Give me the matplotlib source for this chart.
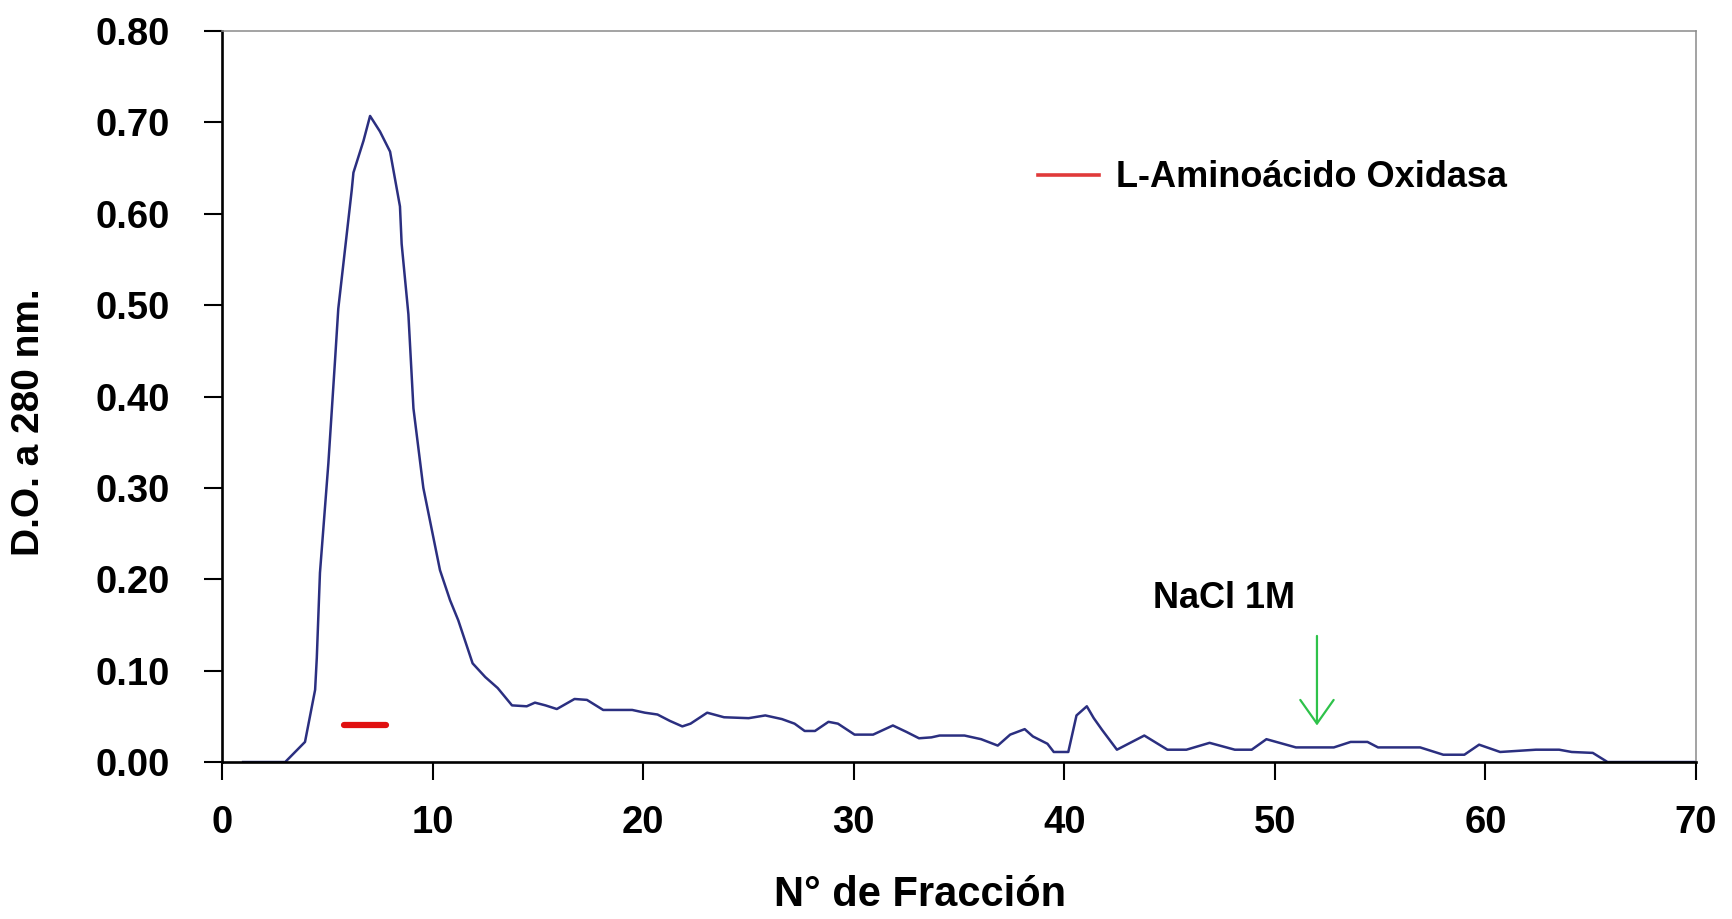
import matplotlib
matplotlib.use("Agg")
import matplotlib.pyplot as plt
from matplotlib.lines import Line2D

plt.rcParams['font.family'] = ['Liberation Sans', 'DejaVu Sans']
plt.rcParams['font.weight'] = 'bold'
plt.rcParams['axes.labelweight'] = 'bold'

# perfil de elución (D.O. 280 nm por fracción)
fraccion = [1.0, 3.0, 3.94, 4.42, 4.5, 4.65, 5.05, 5.37, 5.52, 5.84, 6.16, 6.24,
            6.72, 7.03, 7.5, 7.98, 8.45, 8.53, 8.85, 9.09, 9.56, 10.35, 10.83,
            11.22, 11.9, 12.5, 13.09, 13.77, 14.47, 14.86, 15.36, 15.9, 16.74,
            17.33, 18.1, 19.48, 20.08, 20.68, 21.27, 21.86, 22.25, 23.04, 23.84,
            25.01, 25.8, 26.59, 27.19, 27.67, 28.16, 28.8, 29.25, 30.04, 30.92,
            31.86, 32.5, 33.1, 33.69, 34.08, 35.26, 36.05, 36.84, 37.43, 38.12,
            38.51, 39.2, 39.5, 40.19, 40.58, 41.07, 41.4, 41.8, 42.5, 43.8, 44.9,
            45.8, 46.9, 48.1, 48.9, 49.6, 51.0, 52.8, 53.6, 54.4, 54.9, 56.9,
            58.0, 59.0, 59.7, 60.7, 62.4, 63.5, 64.1, 65.1, 65.8, 70.0]
absorbancia = [0.0, 0.0, 0.022, 0.079, 0.114, 0.207, 0.327, 0.441, 0.496, 0.561,
               0.626, 0.645, 0.680, 0.707, 0.690, 0.668, 0.608, 0.567, 0.49,
               0.387, 0.30, 0.21, 0.177, 0.155, 0.108, 0.093, 0.081, 0.062,
               0.061, 0.065, 0.062, 0.058, 0.069, 0.068, 0.057, 0.057, 0.054,
               0.052, 0.045, 0.039, 0.042, 0.054, 0.049, 0.048, 0.051, 0.047,
               0.042, 0.034, 0.034, 0.044, 0.042, 0.030, 0.030, 0.040, 0.033,
               0.026, 0.027, 0.029, 0.029, 0.025, 0.018, 0.030, 0.036, 0.028,
               0.020, 0.011, 0.011, 0.051, 0.061, 0.048, 0.035, 0.0135, 0.029,
               0.0135, 0.0135, 0.021, 0.0135, 0.0135, 0.025, 0.016, 0.016,
               0.022, 0.022, 0.016, 0.016, 0.008, 0.008, 0.019, 0.011, 0.0135,
               0.0135, 0.011, 0.010, 0.0, 0.0]

# fracciones con actividad L-aminoácido oxidasa
lao_x = [5.8, 7.8]
lao_y = [0.04, 0.04]

# inicio del gradiente de NaCl
nacl_x = 52.0
nacl_tope = 0.138
nacl_punta = 0.04
nacl_texto = (47.6, 0.179)

xticks = [0, 10, 20, 30, 40, 50, 60, 70]
yticks = [0.0, 0.1, 0.2, 0.3, 0.4, 0.5, 0.6, 0.7, 0.8]

fig = plt.figure(figsize=(17.32, 9.19), dpi=100)
ax = fig.add_axes([0.1282, 0.1708, 0.851, 0.7955])

ax.plot(fraccion, absorbancia, color='#2b2f80', lw=1.8, solid_joinstyle='round')
ax.plot(lao_x, lao_y, color='#e01010', lw=4.5, solid_capstyle='round')

ax.annotate('', xy=(nacl_x, nacl_punta), xytext=(nacl_x, nacl_tope),
            arrowprops=dict(arrowstyle='->,head_length=0.85,head_width=0.6',
                            color='#2ec24a', lw=1.6, mutation_scale=20,
                            shrinkA=0, shrinkB=0))
ax.text(nacl_texto[0], nacl_texto[1], 'NaCl 1M', fontsize=26,
        ha='center', va='center')

leyenda = [Line2D([0], [0], color='#e03a3a', lw=2.6)]
ax.legend(leyenda, ['L-Aminoácido Oxidasa'], loc='center left',
          bbox_to_anchor=(0.5536, 0.799), frameon=False, fontsize=26,
          handlelength=1.7, handletextpad=0.45, borderpad=0, borderaxespad=0)

ax.set_xlim(0, 70)
ax.set_ylim(0, 0.8)
ax.set_xticks(xticks)
ax.set_yticks(yticks)
ax.set_yticklabels(['%.2f' % v for v in yticks])
ax.tick_params(axis='both', direction='out', length=12.7, width=1.5,
               labelsize=27.5)
ax.tick_params(axis='x', pad=18)
ax.tick_params(axis='y', pad=25)

for lado in ['left', 'bottom']:
    ax.spines[lado].set_color('black')
    ax.spines[lado].set_linewidth(1.9)
for lado in ['top', 'right']:
    ax.spines[lado].set_color('#8a8a8a')
    ax.spines[lado].set_linewidth(1.1)

ax.set_xlabel('N° de Fracción', fontsize=30, fontweight='bold')
ax.set_ylabel('D.O. a 280 nm.', fontsize=28, fontweight='bold')
ax.xaxis.set_label_coords(0.4736, -0.1546)
ax.yaxis.set_label_coords(-0.119, 0.465)

fig.savefig('out.png', dpi=100)
